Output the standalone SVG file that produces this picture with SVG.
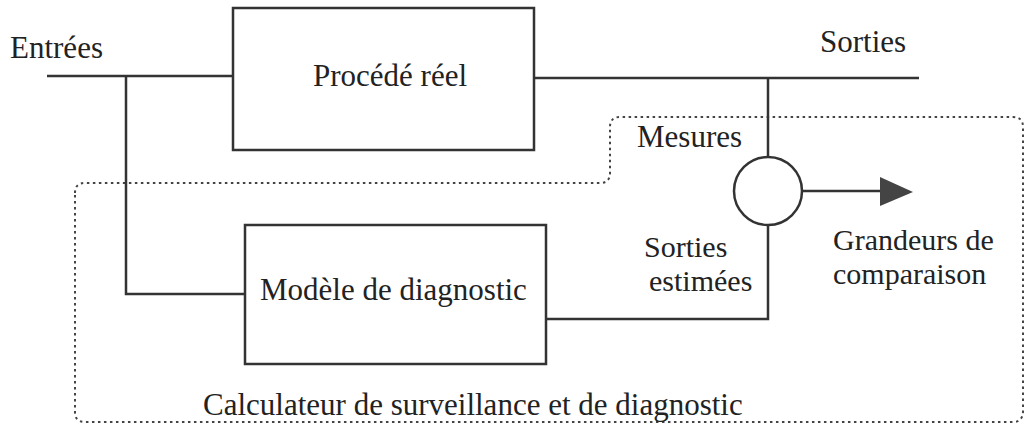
<svg xmlns="http://www.w3.org/2000/svg" width="1028" height="428" viewBox="0 0 1028 428">
<style>
.ln{fill:none;stroke:#333;stroke-width:2.5}
.bx{fill:#fff;stroke:#333;stroke-width:2.5}
.dot{fill:none;stroke:#444;stroke-width:2;stroke-dasharray:2.5 3.5}
.t{font-family:"Liberation Serif","Times New Roman",serif;font-size:31px;fill:#222}
.t2{font-size:30px}
</style>
<rect width="1028" height="428" fill="#fff"/>
<g id="boundary">
<path class="dot" d="M75,193 Q75,183 85,183 L600,183 Q610,183 610,173 L610,127 Q610,117 620,117 L1013,117 Q1023,117 1023,127 L1023,411 Q1023,422 1013,422 L85,422 Q75,422 75,412 Z"/>
<text class="t" x="203" y="415">Calculateur de surveillance et de diagnostic</text>
</g>
<g id="connectors">
<path class="ln" d="M47,76 H233"/>
<path class="ln" d="M126,76 V294 H245"/>
<path class="ln" d="M534,78 H919"/>
<path class="ln" d="M768,78 V157"/>
<path class="ln" d="M546,319 H768 V225"/>
<path class="ln" d="M802,191 H882"/>
<polygon points="880,177 913,192 880,206" fill="#444"/>
</g>
<g id="proc">
<rect class="bx" x="233" y="8" width="301" height="142"/>
<text class="t" x="313" y="86">Procédé réel</text>
</g>
<g id="model">
<rect class="bx" x="245" y="225" width="301" height="139"/>
<text class="t" x="260" y="300">Modèle de diagnostic</text>
</g>
<g id="comparator">
<circle cx="768" cy="191" r="34" class="bx"/>
</g>
<g id="labels">
<text class="t" x="10" y="58">Entrées</text>
<text class="t" x="820" y="52">Sorties</text>
<text class="t" x="637" y="147">Mesures</text>
<text class="t t2"><tspan x="644" y="257">Sorties</tspan><tspan x="649" y="291">estimées</tspan></text>
<text class="t t2"><tspan x="833" y="250">Grandeurs de</tspan><tspan x="833" y="284">comparaison</tspan></text>
</g>
</svg>
